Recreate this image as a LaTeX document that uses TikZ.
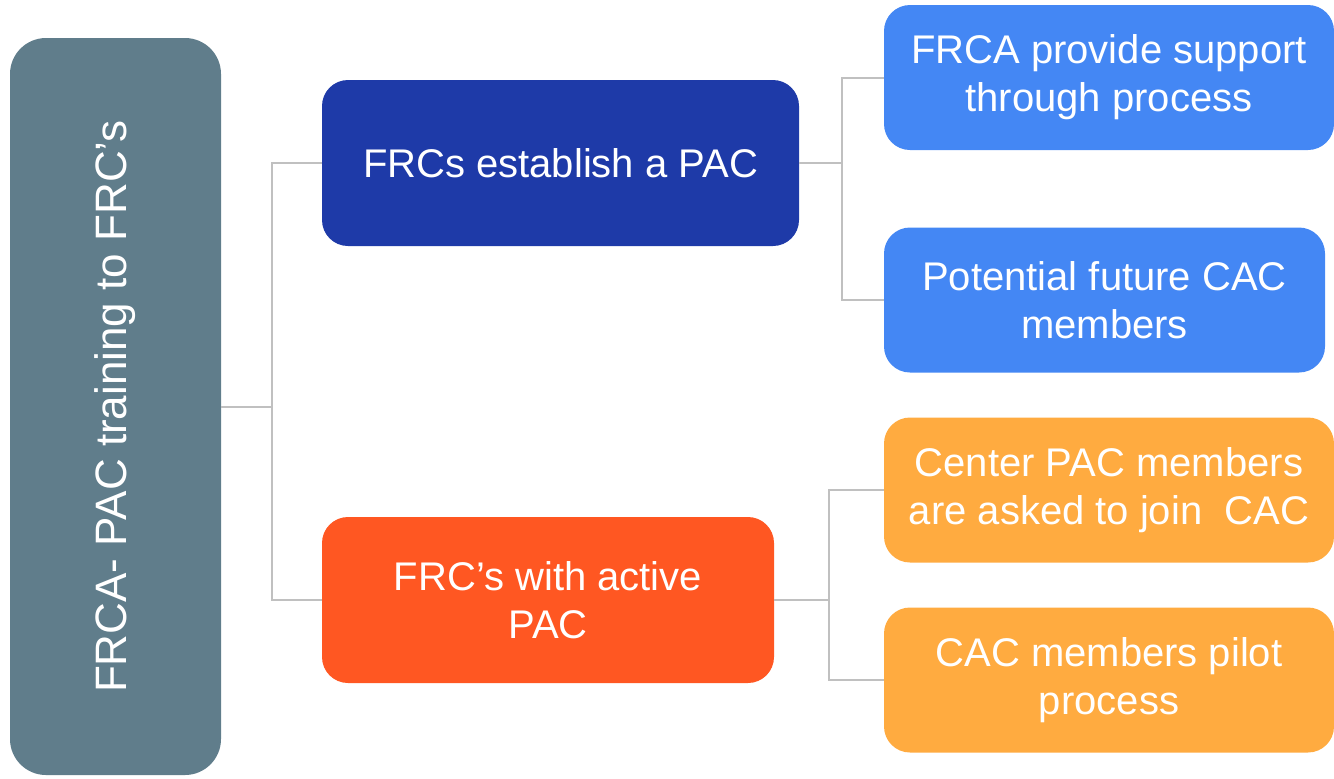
\documentclass[tikz,border=0pt]{standalone}
\usepackage{fontspec}
\setmainfont{Liberation Sans}
\definecolor{rootgray}{HTML}{607D8B}
\definecolor{pacblue}{HTML}{1E3AA8}
\definecolor{pacred}{HTML}{FF5722}
\definecolor{subblue}{HTML}{4487F4}
\definecolor{suborange}{HTML}{FFAB40}
\definecolor{linkgray}{HTML}{C0C0C0}
\tikzset{>=stealth}

\begin{document}
\begin{tikzpicture}[x=0.5pt, y=-0.5pt,
    box/.style={rectangle, rounded corners=13pt, inner sep=0pt, align=center,
        text=white, font=\fontsize{20}{24}\selectfont},
    midbox/.style={box, minimum height=83pt},
    leafbox/.style={box, minimum height=72.5pt},
    link/.style={draw=linkgray, line width=1pt}]
    \useasboundingbox (0,0) rectangle (1334,778);
    % root
    \node[box, fill=rootgray, rounded corners=18pt, minimum width=105.5pt,
        minimum height=368.5pt, font=\fontsize{22}{26}\selectfont]
        (root) at (115.5,406.5) {\rotatebox{90}{FRCA- PAC training to FRC’s}};
    % middle level
    \node[midbox, fill=pacblue, minimum width=238.5pt] (estab) at (560.5,163)
        {FRCs establish a PAC};
    \node[midbox, fill=pacred, minimum width=226pt] (active) at (548,600)
        {FRC’s with active\\PAC};
    % leaves
    \node[leafbox, fill=subblue, minimum width=225pt] (support) at (1109,77.5)
        {FRCA provide support\\through process};
    \node[leafbox, fill=subblue, minimum width=220.5pt] (future) at (1104.5,300)
        {Potential future CAC\\members};
    \node[leafbox, fill=suborange, minimum width=225pt] (join) at (1109,490)
        {Center PAC members\\are asked to join~ CAC};
    \node[leafbox, fill=suborange, minimum width=225pt] (pilot) at (1109,680)
        {CAC members pilot\\process};
    % connectors
    \draw[link] (root.east) -- ++(51,0);
    \draw[link] (estab.west) -| ([xshift=25.5pt]root.east) |- (active.west);
    \draw[link] (estab.east) -- ++(43,0);
    \draw[link] (support.west) -| ([xshift=21.5pt]estab.east) |- (future.west);
    \draw[link] (active.east) -- ++(55,0);
    \draw[link] (join.west) -| ([xshift=27.5pt]active.east) |- (pilot.west);
\end{tikzpicture}
\end{document}
